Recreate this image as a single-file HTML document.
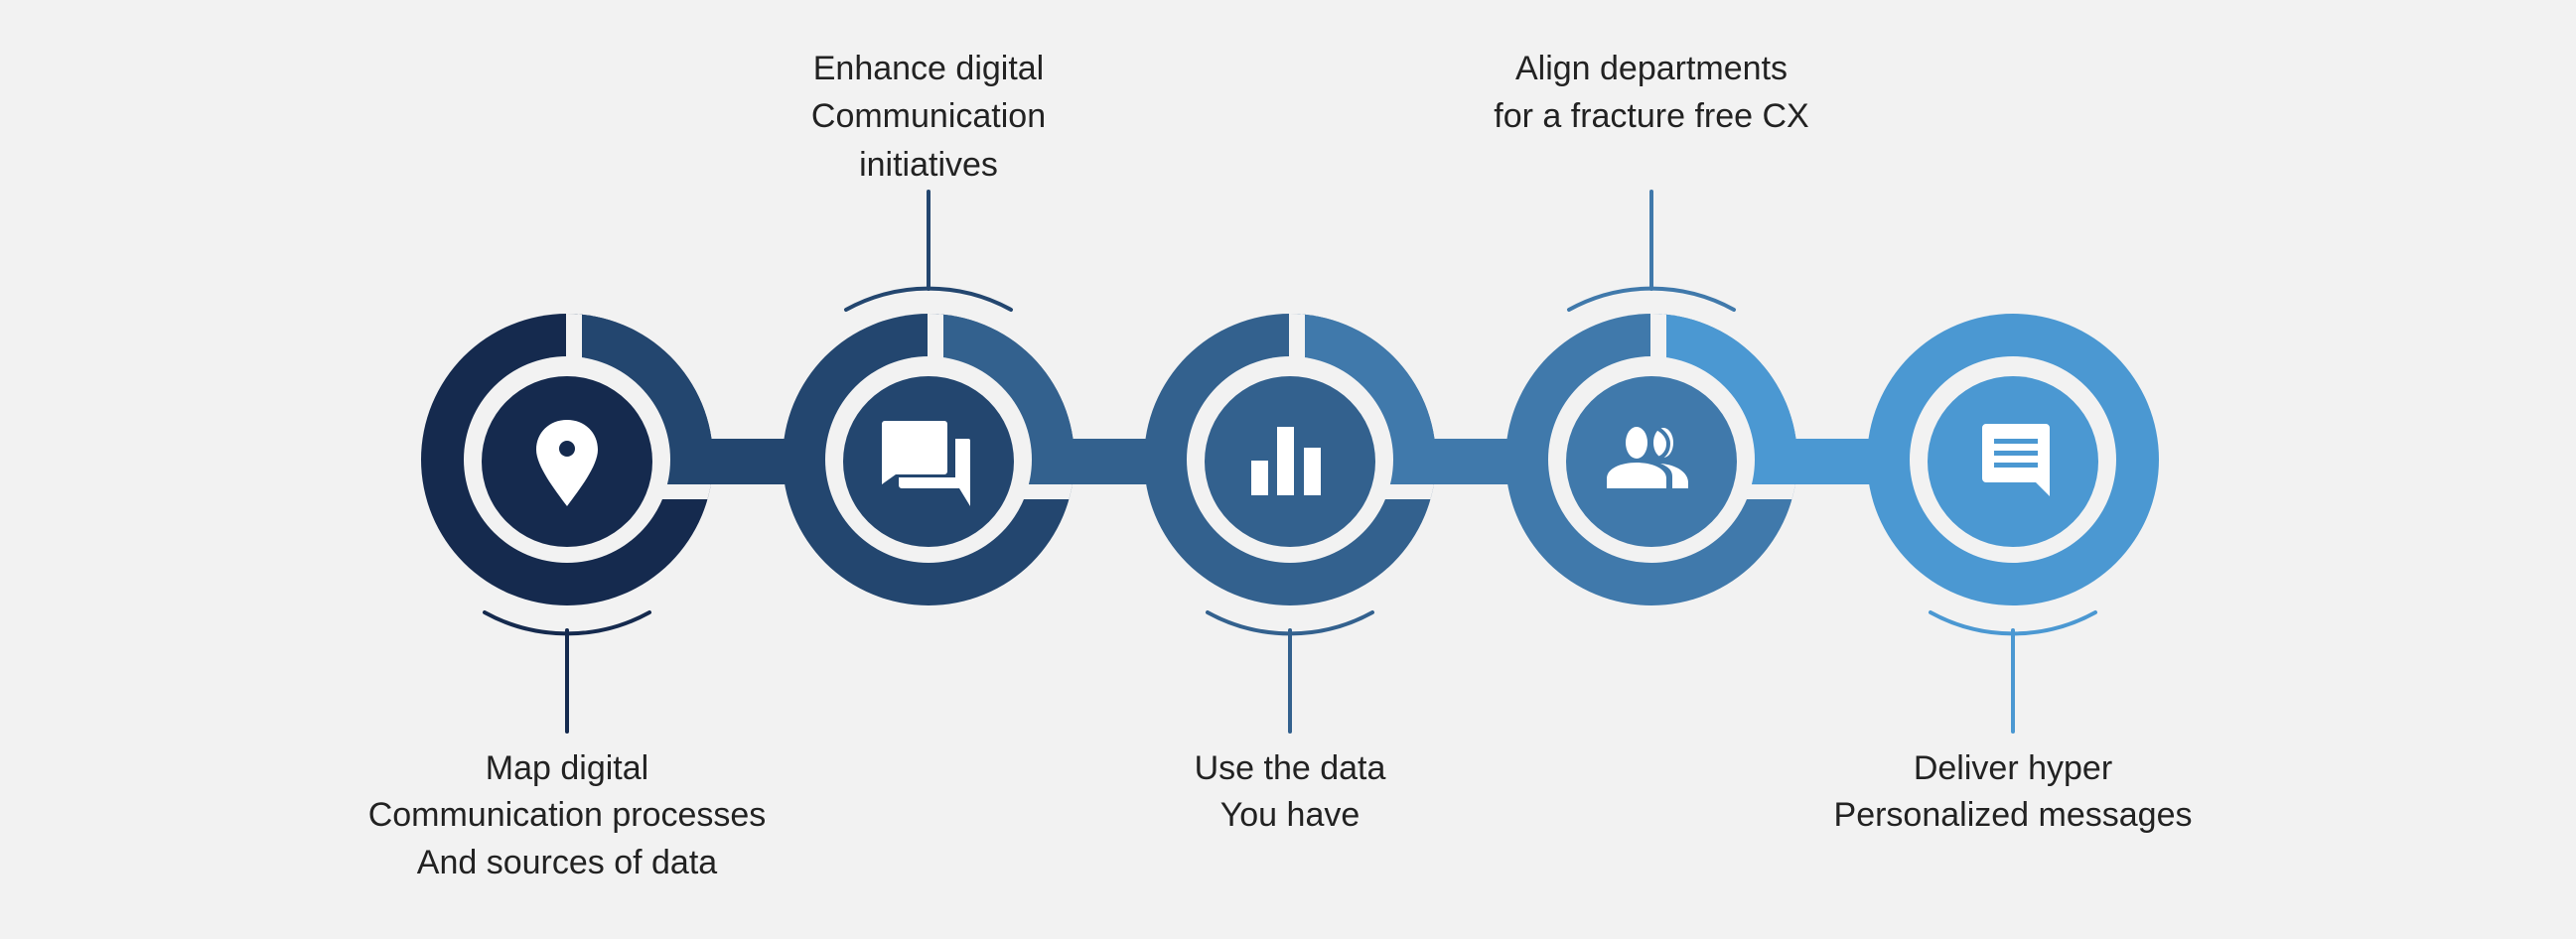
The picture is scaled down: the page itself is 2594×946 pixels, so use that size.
<!DOCTYPE html>
<html><head><meta charset="utf-8"><style>
html,body{margin:0;padding:0;background:#f2f2f2;}
svg{display:block;}
text{font-family:"Liberation Sans",sans-serif;font-size:34px;fill:#222;text-anchor:middle;}
</style></head><body>
<svg width="2594" height="946" viewBox="0 0 2594 946" xmlns="http://www.w3.org/2000/svg">
<rect width="2594" height="946" fill="#f2f2f2"/>
<defs>
<clipPath id="c1"><circle cx="571" cy="463" r="147"/></clipPath>
<clipPath id="c2"><circle cx="935" cy="463" r="147"/></clipPath>
<clipPath id="c3"><circle cx="1299" cy="463" r="147"/></clipPath>
<clipPath id="c4"><circle cx="1663" cy="463" r="147"/></clipPath>
</defs>

<!-- outer rings -->
<circle cx="571" cy="463" r="147" fill="#152a4e"/>
<g clip-path="url(#c1)">
<rect x="578" y="310" width="150" height="132" fill="#23466f"/>
<rect x="570" y="310" width="16" height="60" fill="#f2f2f2"/>
<rect x="660" y="488" width="70" height="15" fill="#f2f2f2"/>
</g>
<circle cx="935" cy="463" r="147" fill="#23466f"/>
<g clip-path="url(#c2)">
<rect x="942" y="310" width="150" height="132" fill="#33618e"/>
<rect x="934" y="310" width="16" height="60" fill="#f2f2f2"/>
<rect x="1024" y="488" width="70" height="15" fill="#f2f2f2"/>
</g>
<circle cx="1299" cy="463" r="147" fill="#33618e"/>
<g clip-path="url(#c3)">
<rect x="1306" y="310" width="150" height="132" fill="#4079ab"/>
<rect x="1298" y="310" width="16" height="60" fill="#f2f2f2"/>
<rect x="1388" y="488" width="70" height="15" fill="#f2f2f2"/>
</g>
<circle cx="1663" cy="463" r="147" fill="#4079ab"/>
<g clip-path="url(#c4)">
<rect x="1670" y="310" width="150" height="132" fill="#4b98d2"/>
<rect x="1662" y="310" width="16" height="60" fill="#f2f2f2"/>
<rect x="1752" y="488" width="70" height="15" fill="#f2f2f2"/>
</g>
<circle cx="2027" cy="463" r="147" fill="#4b98d2"/>

<!-- bars -->
<rect x="660" y="442" width="180" height="46" fill="#23466f"/>
<rect x="1024" y="442" width="180" height="46" fill="#33618e"/>
<rect x="1388" y="442" width="180" height="46" fill="#4079ab"/>
<rect x="1752" y="442" width="180" height="46" fill="#4b98d2"/>

<!-- white rings + inner -->
<circle cx="571" cy="463" r="104" fill="#f2f2f2"/>
<circle cx="571" cy="465" r="86" fill="#152a4e"/>
<circle cx="935" cy="463" r="104" fill="#f2f2f2"/>
<circle cx="935" cy="465" r="86" fill="#23466f"/>
<circle cx="1299" cy="463" r="104" fill="#f2f2f2"/>
<circle cx="1299" cy="465" r="86" fill="#33618e"/>
<circle cx="1663" cy="463" r="104" fill="#f2f2f2"/>
<circle cx="1663" cy="465" r="86" fill="#4079ab"/>
<circle cx="2027" cy="463" r="104" fill="#f2f2f2"/>
<circle cx="2027" cy="465" r="86" fill="#4b98d2"/>

<!-- callout arcs & lines -->
<g fill="none" stroke-width="4" stroke-linecap="round">
<path d="M488 617 A172 172 0 0 0 654 617" stroke="#152a4e"/>
<line x1="571" y1="635" x2="571" y2="737" stroke="#152a4e"/>
<path d="M852 312 A172 172 0 0 1 1018 312" stroke="#23466f"/>
<line x1="935" y1="291" x2="935" y2="193" stroke="#23466f"/>
<path d="M1216 617 A172 172 0 0 0 1382 617" stroke="#33618e"/>
<line x1="1299" y1="635" x2="1299" y2="737" stroke="#33618e"/>
<path d="M1580 312 A172 172 0 0 1 1746 312" stroke="#4079ab"/>
<line x1="1663" y1="291" x2="1663" y2="193" stroke="#4079ab"/>
<path d="M1944 617 A172 172 0 0 0 2110 617" stroke="#4b98d2"/>
<line x1="2027" y1="635" x2="2027" y2="737" stroke="#4b98d2"/>
</g>

<!-- icons -->
<g fill="#fff">
<path d="M571 423 C553 423 540 436 540 453 C540 470 560 495 571 510 C582 495 602 470 602 453 C602 436 589 423 571 423 Z"/>
<circle cx="571" cy="452" r="8" fill="#152a4e"/>
<path d="M891 424 H951 a3 3 0 0 1 3 3 V475 a3 3 0 0 1 -3 3 H902 L888 488 V427 a3 3 0 0 1 3 -3Z"/>
<path d="M962 442 H975 a2 2 0 0 1 2 2 V510 L966 492 H908 a3 3 0 0 1 -3 -3 V481 H962 Z"/>
<rect x="1260" y="464" width="17" height="35"/>
<rect x="1286" y="430" width="17" height="69"/>
<rect x="1313" y="451" width="17" height="48"/>
<ellipse cx="1675" cy="446" rx="10" ry="15"/>
<path d="M1672 467 C1688 468 1700 476 1700 486 V492 H1684 V480 C1684 474 1680 470 1672 467Z"/>
<path d="M1668 431 C1676 435 1680 441 1680 447 C1680 455 1676 460 1668 463" fill="none" stroke="#4079ab" stroke-width="4"/>
<ellipse cx="1648" cy="446" rx="11" ry="16"/>
<path d="M1618 492 V482 C1618 472 1632 466 1648 466 C1664 466 1678 472 1678 482 V492 Z"/>
<path d="M2000 427 H2060 a4 4 0 0 1 4 4 V500 L2050 486 H2000 a4 4 0 0 1 -4 -4 V431 a4 4 0 0 1 4 -4Z"/>
<rect x="2008" y="442" width="44" height="5" fill="#4b98d2"/>
<rect x="2008" y="454" width="44" height="5" fill="#4b98d2"/>
<rect x="2008" y="466" width="44" height="5" fill="#4b98d2"/>
</g>

<!-- labels -->
<text x="935" y="80">Enhance digital</text>
<text x="935" y="128">Communication</text>
<text x="935" y="177">initiatives</text>
<text x="1663" y="80">Align departments</text>
<text x="1663" y="128">for a fracture free CX</text>
<text x="571" y="785">Map digital</text>
<text x="571" y="832">Communication processes</text>
<text x="571" y="880">And sources of data</text>
<text x="1299" y="785">Use the data</text>
<text x="1299" y="832">You have</text>
<text x="2027" y="785">Deliver hyper</text>
<text x="2027" y="832">Personalized messages</text>
</svg>
</body></html>
